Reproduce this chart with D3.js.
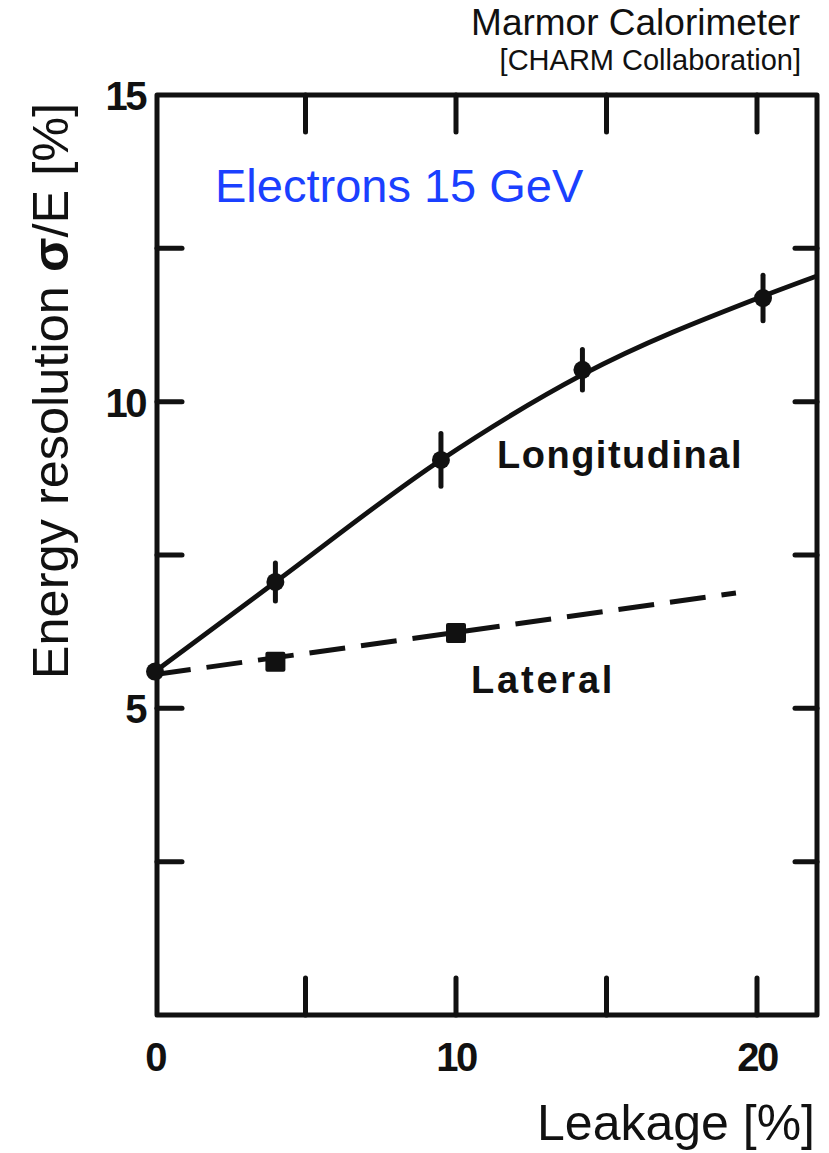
<!DOCTYPE html>
<html>
<head>
<meta charset="utf-8">
<script src="https://cdn.jsdelivr.net/npm/d3@7"></script>
<style>
  html, body { margin: 0; padding: 0; background: #fff; }
  svg { display: block; }
  .light { font-family: "Helvetica Neue", "Liberation Sans", Arial, sans-serif; font-weight: 300; }
  .scan { font-family: "Liberation Sans Narrow", "Liberation Sans", Arial, sans-serif; font-weight: bold; }
  .lbl { font-family: "Liberation Sans", Arial, sans-serif; font-weight: bold; }
</style>
</head>
<body>
<script>
// ---- data ----
const longitudinalX = [0, 4.0, 9.5, 14.2, 20.2];
const longitudinalY = [5.6, 7.06, 9.05, 10.52, 11.69];
const longitudinalErr = [0, 0.31, 0.43, 0.33, 0.37];
// fitted curve drawn in the figure
const longitudinalFitX = [0, 4.0, 9.5, 14.2, 20.2, 22.0];
const longitudinalFitY = [5.6, 7.06, 9.05, 10.44, 11.72, 12.05];
const lateralX = [4.0, 10.0];
const lateralY = [5.76, 6.23];
const lateralFitX = [0, 19.3];
const lateralFitY = [5.55, 6.88];
const xTicks = [5, 10, 15, 20];
const xTickLabels = [0, 10, 20];
const yTicks = [2.5, 5, 7.5, 10, 12.5];
const yTickLabels = [5, 10, 15];

(function () {
const W = 829, H = 1153;
const svg = d3.select("body").append("svg").attr("width", W).attr("height", H);

const x = d3.scaleLinear().domain([0, 20]).range([155, 757]);
const y = d3.scaleLinear().domain([0, 15]).range([1015, 95]);

const pL = 157, pR = 817, pT = 95, pB = 1015;
const ink = "#111";

// frame
svg.append("path")
  .attr("d", `M${pL},${pT}H${pR}V${pB}H${pL}Z`)
  .attr("fill", "none").attr("stroke", ink).attr("stroke-width", 5)
  .attr("stroke-linejoin", "round");

// ticks
const tickG = svg.append("g").attr("stroke", ink).attr("stroke-width", 5).attr("stroke-linecap", "round");
xTicks.forEach(t => {
  tickG.append("line").attr("x1", x(t)).attr("x2", x(t)).attr("y1", pB).attr("y2", pB - 37);
  tickG.append("line").attr("x1", x(t)).attr("x2", x(t)).attr("y1", pT).attr("y2", pT + 37);
});
yTicks.forEach(t => {
  tickG.append("line").attr("x1", pL).attr("x2", pL + 25).attr("y1", y(t)).attr("y2", y(t));
  tickG.append("line").attr("x1", pR).attr("x2", pR - 22).attr("y1", y(t)).attr("y2", y(t));
});

// tick labels
svg.append("g").selectAll("text").data(xTickLabels).join("text")
  .attr("class", "scan").attr("x", d => x(d)).attr("y", 1071)
  .attr("text-anchor", "middle").attr("font-size", 40).attr("letter-spacing", -2.5)
  .attr("fill", ink).text(d => d);
svg.append("g").selectAll("text").data(yTickLabels).join("text")
  .attr("class", "scan").attr("x", 145).attr("y", d => y(d) + 15)
  .attr("text-anchor", "end").attr("font-size", 40).attr("letter-spacing", -2.5)
  .attr("fill", ink).text(d => d);

// clip
svg.append("clipPath").attr("id", "clip").append("rect")
  .attr("x", pL).attr("y", pT).attr("width", pR - pL).attr("height", pB - pT);

const plot = svg.append("g").attr("clip-path", "url(#clip)");

// longitudinal curve
const lfit = longitudinalFitX.map((v, i) => [v, longitudinalFitY[i]]);
plot.append("path")
  .attr("d", d3.line().x(d => x(d[0])).y(d => y(d[1])).curve(d3.curveMonotoneX)(lfit))
  .attr("fill", "none").attr("stroke", ink).attr("stroke-width", 4.8);

// lateral dashed line
const latFit = lateralFitX.map((v, i) => [v, lateralFitY[i]]);
plot.append("path")
  .attr("d", d3.line().x(d => x(d[0])).y(d => y(d[1]))(latFit))
  .attr("fill", "none").attr("stroke", ink).attr("stroke-width", 5)
  .attr("stroke-dasharray", "36,16");

// longitudinal points
const lpts = longitudinalX.map((v, i) => ({x: v, y: longitudinalY[i], e: longitudinalErr[i]}));
svg.append("g").selectAll("line").data(lpts.filter(d => d.e > 0)).join("line")
  .attr("x1", d => x(d.x)).attr("x2", d => x(d.x))
  .attr("y1", d => y(d.y + d.e)).attr("y2", d => y(d.y - d.e))
  .attr("stroke", ink).attr("stroke-width", 5).attr("stroke-linecap", "round");
svg.append("g").selectAll("circle").data(lpts).join("circle")
  .attr("cx", d => x(d.x)).attr("cy", d => y(d.y)).attr("r", 9).attr("fill", ink);

// lateral squares
const latPts = lateralX.map((v, i) => ({x: v, y: lateralY[i]}));
svg.append("g").selectAll("rect").data(latPts).join("rect")
  .attr("x", d => x(d.x) - 10).attr("y", d => y(d.y) - 10)
  .attr("width", 20).attr("height", 20).attr("rx", 2).attr("fill", ink);

// series labels
svg.append("text").attr("class", "lbl").attr("x", 497).attr("y", 468)
  .attr("font-size", 38).attr("letter-spacing", 1.5).attr("fill", ink).text("Longitudinal");
svg.append("text").attr("class", "lbl").attr("x", 471).attr("y", 693)
  .attr("font-size", 38).attr("letter-spacing", 2.8).attr("fill", ink).text("Lateral");

// annotation
svg.append("text").attr("class", "light").attr("x", 215).attr("y", 202)
  .attr("font-size", 47).attr("fill", "#1a40ff").text("Electrons 15 GeV");

// title
svg.append("text").attr("class", "light").attr("x", 800).attr("y", 35)
  .attr("text-anchor", "end").attr("font-size", 37).attr("fill", "#111").text("Marmor Calorimeter");
svg.append("text").attr("class", "light").attr("x", 801).attr("y", 70)
  .attr("text-anchor", "end").attr("font-size", 29).attr("fill", "#111").text("[CHARM Collaboration]");

// axis titles
svg.append("text").attr("class", "light").attr("x", 815).attr("y", 1140)
  .attr("text-anchor", "end").attr("font-size", 50).attr("fill", "#111").text("Leakage [%]");

const yl = svg.append("text").attr("class", "light")
  .attr("transform", "translate(68,391) rotate(-90)")
  .attr("text-anchor", "middle").attr("font-size", 50.5).attr("fill", "#111");
yl.append("tspan").text("Energy resolution ");
yl.append("tspan").attr("font-weight", "bold").text("σ");
yl.append("tspan").text("/E [%]");
})();
</script>
</body>
</html>
